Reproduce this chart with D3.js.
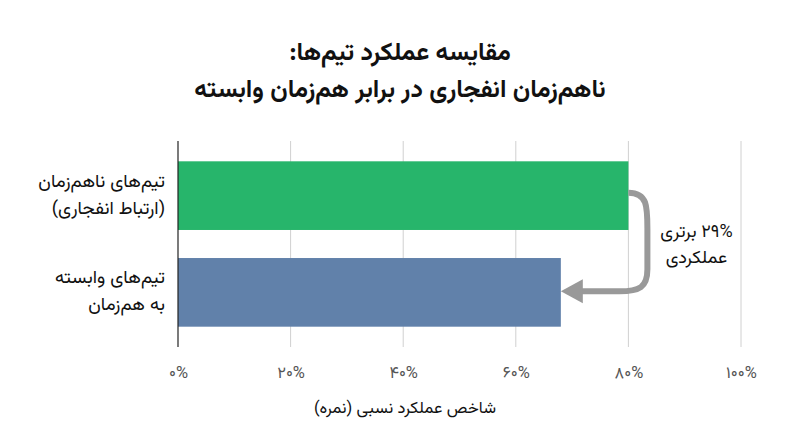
<!DOCTYPE html>
<html>
<head>
<meta charset="utf-8">
<script src="https://cdn.jsdelivr.net/npm/d3@7/dist/d3.min.js"></script>
<style>
  body { margin: 0; background: #fff; }
  svg text { font-family: Vazirmatn, "Noto Sans Arabic", "DejaVu Sans", sans-serif; }
</style>
</head>
<body>
<div id="viz"></div>
<script>
// chart data
var categories = ["async", "sync"];
var categoryLabels = [
  ["تیم‌های ناهم‌زمان", "(ارتباط انفجاری)"],
  ["تیم‌های وابسته", "به هم‌زمان"]
];
var values = [80, 68];
var barColors = ["#27b56b", "#6181aa"];
var tickValues = [0, 20, 40, 60, 80, 100];
var tickLabels = ["۰%", "۲۰%", "۴۰%", "۶۰%", "۸۰%", "۱۰۰%"];
var titleLines = ["مقایسه عملکرد تیم‌ها:", "ناهم‌زمان انفجاری در برابر هم‌زمان وابسته"];
var xTitle = "شاخص عملکرد نسبی (نمره)";
var noteLines = ["۲۹% برتری", "عملکردی"];

var W = 800, H = 447;
var m = {top: 141, right: 59, bottom: 100, left: 178};
var iw = W - m.left - m.right, ih = H - m.top - m.bottom;

var svg = d3.select("#viz").append("svg")
    .attr("width", W).attr("height", H);

var x = d3.scaleLinear().domain([0, 100]).range([0, iw]);
var y = d3.scaleBand().domain(categories).range([0, ih])
    .paddingInner(0.29).paddingOuter(0.21);

var g = svg.append("g").attr("transform", "translate(" + m.left + "," + m.top + ")");

// title
svg.append("g").selectAll("text").data(titleLines).enter().append("text")
    .attr("x", W / 2).attr("y", function(d, i) { return 60 + i * 37; })
    .attr("text-anchor", "middle").attr("direction", "rtl")
    .style("font-size", "25px").style("font-weight", "bold").style("fill", "#111")
    .text(function(d) { return d; });

// grid lines
g.append("g").selectAll("line").data(tickValues.slice(1)).enter().append("line")
    .attr("x1", function(d) { return x(d); }).attr("x2", function(d) { return x(d); })
    .attr("y1", 0).attr("y2", ih)
    .style("stroke", "#d0d0d0").style("stroke-width", 1);

// bars
g.selectAll("rect.bar").data(values).enter().append("rect")
    .attr("class", "bar")
    .attr("x", 0)
    .attr("y", function(d, i) { return y(categories[i]); })
    .attr("width", function(d) { return x(d); })
    .attr("height", y.bandwidth())
    .style("fill", function(d, i) { return barColors[i]; });

// left axis line
g.append("line").attr("x1", 0).attr("x2", 0).attr("y1", 0).attr("y2", ih)
    .style("stroke", "#222").style("stroke-width", 1.2);

// x tick labels
var xAxis = d3.axisBottom(x).tickValues(tickValues).tickSize(0).tickPadding(19)
    .tickFormat(function(d, i) { return tickLabels[i]; });
var xa = g.append("g").attr("transform", "translate(0," + ih + ")").call(xAxis);
xa.select(".domain").remove();
xa.selectAll("text")
    .style("font-size", "16.5px").style("fill", "#555")
    .style("font-family", "Vazirmatn, 'Noto Sans Arabic', 'DejaVu Sans', sans-serif");

// x title
svg.append("text")
    .attr("x", 405).attr("y", 413)
    .attr("text-anchor", "middle").attr("direction", "rtl")
    .style("font-size", "16.5px").style("fill", "#111")
    .text(xTitle);

// category labels
categories.forEach(function(c, i) {
  var cy = m.top + y(c) + y.bandwidth() / 2;
  svg.append("g").selectAll("text").data(categoryLabels[i]).enter().append("text")
      .attr("x", m.left - 13)
      .attr("y", function(d, j) { return cy - 9 + j * 27; })
      .attr("text-anchor", "start").attr("direction", "rtl")
      .style("font-size", "18.5px").style("fill", "#111")
      .text(function(d) { return d; });
});

// annotation arrow from the green bar end to the blue bar end
var x1 = x(values[0]), y1 = y(categories[0]) + y.bandwidth() / 2 - 3;
var x2 = x(values[1]), y2 = y(categories[1]) + y.bandwidth() / 2 - 1;
var xr = x1 + 19;
var path = d3.path();
path.moveTo(x1, y1);
path.bezierCurveTo(xr, y1, xr, y1 + 14, xr, y1 + 36);
path.lineTo(xr, y2 - 22);
path.bezierCurveTo(xr, y2 - 4, xr - 8, y2, xr - 28, y2);
path.lineTo(x2 + 18, y2);
g.append("path").attr("d", path.toString())
    .style("fill", "none").style("stroke", "#999").style("stroke-width", 6);
g.append("path")
    .attr("d", "M" + x2 + "," + y2 + "L" + (x2 + 22) + "," + (y2 - 12) + "L" + (x2 + 22) + "," + (y2 + 12) + "Z")
    .style("fill", "#999");

svg.append("g").selectAll("text").data(noteLines).enter().append("text")
    .attr("x", m.left + xr + 49).attr("y", function(d, i) { return 237 + i * 26; })
    .attr("text-anchor", "middle").attr("direction", "rtl")
    .style("font-size", "18px").style("fill", "#111")
    .text(function(d) { return d; });
</script>
</body>
</html>
